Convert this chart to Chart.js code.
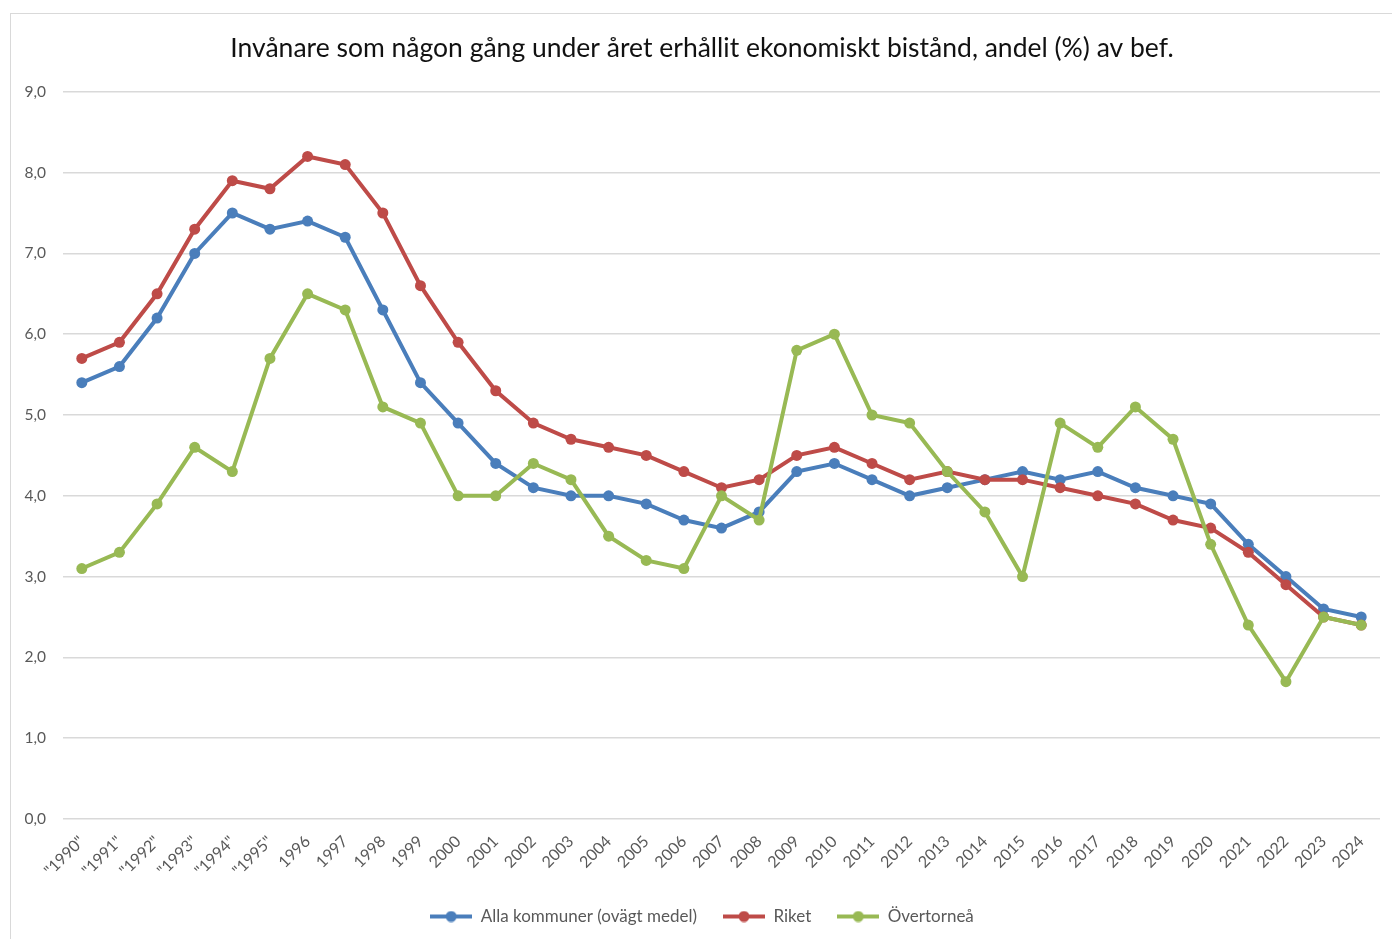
<!DOCTYPE html>
<html lang="sv">
<head>
<meta charset="utf-8">
<title>Ekonomiskt bistånd</title>
<script src="https://cdn.jsdelivr.net/npm/chart.js@4"></script>
<style>
    html, body { margin: 0; padding: 0; background: #fff; overflow: hidden; }
    #frame {
        position: absolute; left: 10px; top: 13px;
        width: 1420px; height: 1000px;
        border: 1px solid #d9d9d9; box-sizing: border-box;
    }
    #wrap { position: absolute; left: 0; top: 0; width: 1392px; height: 939px; }
</style>
</head>
<body>
<div id="frame"></div>
<div id="wrap"><canvas id="chart"></canvas></div>
<script>
const years = [
    '"1990"', '"1991"', '"1992"', '"1993"', '"1994"', '"1995"',
    '1996', '1997', '1998', '1999', '2000', '2001', '2002', '2003', '2004',
    '2005', '2006', '2007', '2008', '2009', '2010', '2011', '2012', '2013',
    '2014', '2015', '2016', '2017', '2018', '2019', '2020', '2021', '2022',
    '2023', '2024'
];

const allaKommuner = [
    5.4, 5.6, 6.2, 7.0, 7.5, 7.3, 7.4, 7.2, 6.3, 5.4, 4.9, 4.4, 4.1, 4.0, 4.0,
    3.9, 3.7, 3.6, 3.8, 4.3, 4.4, 4.2, 4.0, 4.1, 4.2, 4.3, 4.2, 4.3, 4.1, 4.0,
    3.9, 3.4, 3.0, 2.6, 2.5
];

const riket = [
    5.7, 5.9, 6.5, 7.3, 7.9, 7.8, 8.2, 8.1, 7.5, 6.6, 5.9, 5.3, 4.9, 4.7, 4.6,
    4.5, 4.3, 4.1, 4.2, 4.5, 4.6, 4.4, 4.2, 4.3, 4.2, 4.2, 4.1, 4.0, 3.9, 3.7,
    3.6, 3.3, 2.9, 2.5, 2.4
];

const overtornea = [
    3.1, 3.3, 3.9, 4.6, 4.3, 5.7, 6.5, 6.3, 5.1, 4.9, 4.0, 4.0, 4.4, 4.2, 3.5,
    3.2, 3.1, 4.0, 3.7, 5.8, 6.0, 5.0, 4.9, 4.3, 3.8, 3.0, 4.9, 4.6, 5.1, 4.7,
    3.4, 2.4, 1.7, 2.5, 2.4
];

const seriesNames = ['Alla kommuner (ovägt medel)', 'Riket', 'Övertorneå'];
const seriesColors = ['#4a7ebb', '#be4b48', '#98b954'];

const textGrey = '#595959';
const gridGrey = '#d9d9d9';

// small line-with-dot swatch for the legend
function legendMarker(color) {
    const c = document.createElement('canvas');
    c.width = 42;
    c.height = 12;
    const g = c.getContext('2d');
    g.strokeStyle = color;
    g.lineWidth = 4;
    g.beginPath();
    g.moveTo(0, 6);
    g.lineTo(42, 6);
    g.stroke();
    g.fillStyle = color;
    g.beginPath();
    g.arc(21, 6, 5.5, 0, Math.PI * 2);
    g.fill();
    return c;
}

function makeDataset(i, values, order) {
    return {
        label: seriesNames[i],
        data: values,
        borderColor: seriesColors[i],
        backgroundColor: seriesColors[i],
        borderWidth: 4,
        pointRadius: 5.5,
        pointBorderWidth: 0,
        pointBackgroundColor: seriesColors[i],
        tension: 0,
        order: order
    };
}

const ctx = document.getElementById('chart');

new Chart(ctx, {
    type: 'line',
    data: {
        labels: years,
        datasets: [
            makeDataset(0, allaKommuner, 3),
            makeDataset(1, riket, 2),
            makeDataset(2, overtornea, 1)
        ]
    },
    options: {
        responsive: true,
        maintainAspectRatio: false,
        animation: false,
        layout: {
            padding: { left: 24, right: 12, top: 0, bottom: 4 }
        },
        plugins: {
            title: {
                display: true,
                text: 'Invånare som någon gång under året erhållit ekonomiskt bistånd, andel (%) av bef.',
                color: '#111',
                font: { family: 'Lato', size: 26.5, weight: 'normal', lineHeight: 1.2 },
                padding: { top: 33, bottom: 27 }
            },
            legend: {
                position: 'bottom',
                labels: {
                    color: textGrey,
                    font: { family: 'Lato', size: 17 },
                    usePointStyle: true,
                    pointStyleWidth: 42,
                    padding: 26,
                    generateLabels: (chart) => chart.data.datasets.map((ds, i) => ({
                        text: ds.label,
                        pointStyle: legendMarker(ds.borderColor),
                        fillStyle: ds.borderColor,
                        strokeStyle: ds.borderColor,
                        lineWidth: 0,
                        fontColor: textGrey,
                        hidden: !chart.isDatasetVisible(i),
                        datasetIndex: i
                    }))
                }
            },
            tooltip: { enabled: false }
        },
        scales: {
            x: {
                offset: true,
                grid: { display: false, drawTicks: false },
                border: { display: false },
                ticks: {
                    color: textGrey,
                    font: { family: 'Lato', size: 16 },
                    maxRotation: 45,
                    minRotation: 45,
                    autoSkip: false,
                    padding: 13
                },
                afterFit: (scale) => { scale.height = 63; }
            },
            y: {
                min: 0,
                max: 9,
                grid: { color: gridGrey, lineWidth: 1.5, drawTicks: false },
                border: { display: false },
                ticks: {
                    stepSize: 1,
                    color: textGrey,
                    font: { family: 'Lato', size: 15.5 },
                    padding: 17,
                    callback: (v) => v.toFixed(1).replace('.', ',')
                },
                afterFit: (scale) => { scale.width = 39; }
            }
        }
    }
});
</script>
</body>
</html>
